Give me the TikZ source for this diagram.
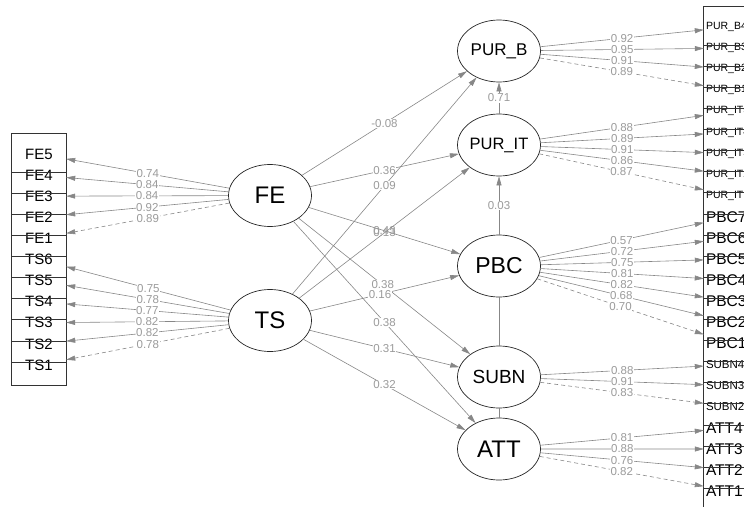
\documentclass[tikz,border=0pt]{standalone}
\usepackage{fontspec}
\setmainfont{Liberation Sans}
\usetikzlibrary{arrows.meta,shapes.geometric}

\definecolor{edgegray}{RGB}{135,135,135}
\definecolor{lblgray}{RGB}{155,155,155}
\newcommand{\fsz}[1]{\fontsize{#1}{#1}\selectfont}

\tikzset{
  lat/.style={draw=black!85, ellipse, fill=white, minimum width=83pt, minimum height=62pt, inner sep=0pt, line width=0.7pt},
  ind/.style={rectangle, minimum width=54pt, minimum height=21pt, inner sep=0pt},
  indr/.style={ind, text width=50pt, inner xsep=2pt, align=left},
  load/.style={edgegray, line width=0.6pt, -{Triangle[length=9pt,width=5pt]}},
  refl/.style={dash pattern=on 4pt off 3pt},
  cov/.style={edgegray, line width=0.6pt},
  grid/.style={black!80, line width=0.8pt},
  lbl/.style={fill=white, inner sep=0.6pt, text=lblgray, font=\fsz{11.5}},
  lblx/.style={lbl, fill=none},
}

\begin{document}
\begin{tikzpicture}[x=1pt, y=-1pt]
\useasboundingbox (0,0) rectangle (744,506);
\clip (0,0) rectangle (744,506);

% latent variables
\node[lat, font=\fsz{24}] (fe) at (270,195.5) {FE};
\node[lat, font=\fsz{24}] (ts) at (270,320.5) {TS};
\node[lat, font=\fsz{17}] (purb) at (499,51) {PUR\_B};
\node[lat, font=\fsz{16.5}] (purit) at (499,145) {PUR\_IT};
\node[lat, font=\fsz{23}] (pbc) at (499,266) {PBC};
\node[lat, font=\fsz{19}] (subn) at (499,377) {SUBN};
\node[lat, font=\fsz{24}] (att) at (499,449) {ATT};

% indicators, left column
\foreach \n/\t [count=\k from 0] in {fe5/FE5,fe4/FE4,fe3/FE3,fe2/FE2,fe1/FE1,
    ts6/TS6,ts5/TS5,ts4/TS4,ts3/TS3,ts2/TS2,ts1/TS1}
  \node[ind, font=\fsz{15}] (\n) at (39,154+21.1*\k) {\t};

% indicators, right column (cut off by the page edge)
\foreach \n/\t/\s [count=\k from 0] in {pb4/PUR\_B4/10.5,pb3/PUR\_B3/10.5,pb2/PUR\_B2/10.5,pb1/PUR\_B1/10.5,
    pi5/PUR\_IT5/10.5,pi4/PUR\_IT4/10.5,pi3/PUR\_IT3/10.5,pi2/PUR\_IT2/10.5,pi1/PUR\_IT1/10.5,
    pbc7/PBC7/15.5,pbc6/PBC6/15.5,pbc5/PBC5/15.5,pbc4/PBC4/15.5,pbc3/PBC3/15.5,pbc2/PBC2/15.5,pbc1/PBC1/15.5,
    sn4/SUBN4/11.5,sn3/SUBN3/11.5,sn2/SUBN2/11.5,
    att4/ATT4/15.5,att3/ATT3/15.5,att2/ATT2/15.5,att1/ATT1/15.5}
  \node[indr, font=\fsz{\s}] (\n) at (731,27+21.1*\k) {\t};

% boxes round the indicators
\draw[grid] ([yshift=10pt]fe5.north west) rectangle ([yshift=-10pt]ts1.south east);
\foreach \n in {fe4,fe3,fe2,fe1,ts6,ts5,ts4,ts3,ts2,ts1}
  \draw[grid] ([yshift=3pt]\n.west) -- ([yshift=3pt]\n.east);
\draw[grid] ([yshift=10pt]pb4.north west) rectangle ([yshift=-10pt]att1.south east);
\foreach \n in {pb3,pb2,pb1,pi5,pi4,pi3,pi2,pi1,pbc7,pbc6,pbc5,pbc4,pbc3,pbc2,pbc1,sn4,sn3,sn2,att4,att3,att2,att1}
  \draw[grid] ([yshift=3pt]\n.west) -- ([yshift=3pt]\n.east);

% loadings
\foreach \n/\v in {fe5/0.74,fe4/0.84,fe3/0.84,fe2/0.92}
  \draw[load] (fe) -- node[lbl]{\v} (\n);
\draw[load, refl] (fe) -- node[lbl]{0.89} (fe1);
\foreach \n/\v in {ts6/0.75,ts5/0.78,ts4/0.77,ts3/0.82,ts2/0.82}
  \draw[load] (ts) -- node[lbl]{\v} (\n);
\draw[load, refl] (ts) -- node[lbl]{0.78} (ts1);
\foreach \n/\v in {pb4/0.92,pb3/0.95,pb2/0.91}
  \draw[load] (purb) -- node[lbl]{\v} (\n);
\draw[load, refl] (purb) -- node[lbl]{0.89} (pb1);
\foreach \n/\v in {pi5/0.88,pi4/0.89,pi3/0.91,pi2/0.86}
  \draw[load] (purit) -- node[lbl]{\v} (\n);
\draw[load, refl] (purit) -- node[lbl]{0.87} (pi1);
\foreach \n/\v in {pbc7/0.57,pbc6/0.72,pbc5/0.75,pbc4/0.81,pbc3/0.82,pbc2/0.68}
  \draw[load] (pbc) -- node[lbl]{\v} (\n);
\draw[load, refl] (pbc) -- node[lbl]{0.70} (pbc1);
\foreach \n/\v in {sn4/0.88,sn3/0.91}
  \draw[load] (subn) -- node[lbl]{\v} (\n);
\draw[load, refl] (subn) -- node[lbl]{0.83} (sn2);
\foreach \n/\v in {att4/0.81,att3/0.88,att2/0.76}
  \draw[load] (att) -- node[lbl]{\v} (\n);
\draw[load, refl] (att) -- node[lbl]{0.82} (att1);

% structural paths
\draw[load] (fe) -- node[lbl]{-0.08} (purb);
\draw[load] (fe) -- node[lbl]{0.36} (purit);
\draw[load] (fe) -- node[lblx]{0.43} (pbc);
\draw[load] (fe) -- node[lbl, pos=0.49]{0.38} (subn);
\draw[load] (fe) -- node[lbl]{0.38} (att);
\draw[load] (ts) -- node[lbl]{0.09} (purb);
\draw[load] (ts) -- node[lblx]{0.13} (purit);
\draw[load] (ts) -- node[lbl, pos=0.47]{0.16} (pbc);
\draw[load] (ts) -- node[lbl]{0.31} (subn);
\draw[load] (ts) -- node[lbl]{0.32} (att);
\draw[load] (purit) -- node[lbl]{0.71} (purb);
\draw[load] (pbc) -- node[lbl]{0.03} (purit);
\draw[cov] (pbc) -- (subn);
\draw[cov] (subn) -- (att);
\end{tikzpicture}
\end{document}
